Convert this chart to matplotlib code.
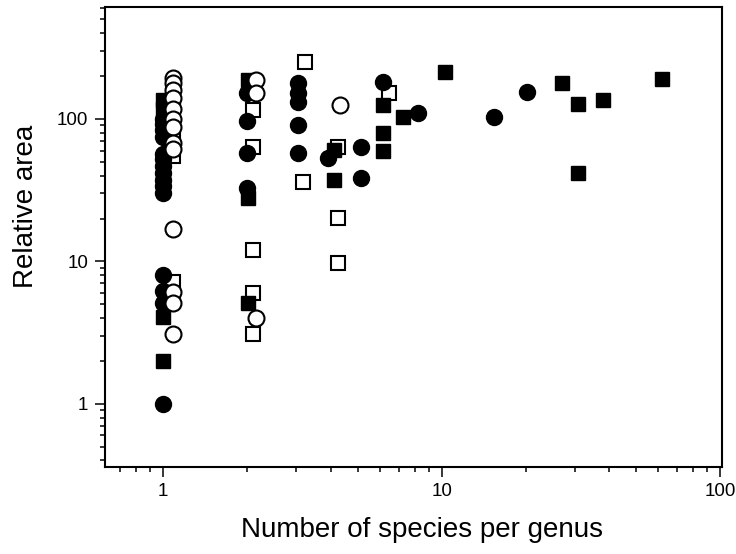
import matplotlib
matplotlib.use("Agg")
import matplotlib.pyplot as plt
from matplotlib.ticker import LogLocator, NullFormatter, FixedLocator, FixedFormatter

plt.rcParams['font.family'] = ['Liberation Sans', 'DejaVu Sans']

# ---- data ----
# filled circles
fc_x = [1, 1, 1, 1, 1, 1, 1, 1, 1, 1, 1, 1, 1, 1, 1,
        2, 2, 2, 2,
        3.05, 3.05, 3.05, 3.05, 3.05,
        3.92, 5.12, 5.12, 6.14, 8.2, 15.4, 20.2]
fc_y = [1, 5.1, 6.2, 8, 30, 34, 37, 42, 47, 52, 57, 75, 83, 92, 100,
        152, 97, 58, 33,
        178, 152, 132, 91, 58,
        53, 63.6, 38.6, 182, 110, 103, 155]

# open circles
oc_x = [1.08] * 13 + [2.15, 2.15, 2.15, 4.33]
oc_y = [195, 180, 160, 140, 118, 100, 88, 68, 62, 17, 6.1, 5.1, 3.1,
        188, 152, 4.0, 125]

# filled squares
fs_x = [1, 1, 1, 1,
        2.02, 2.02, 2.02,
        4.09, 4.09, 6.18, 6.18, 6.18, 7.24, 10.3, 27, 30.8, 30.8, 37.9, 61.8]
fs_y = [2.0, 4.1, 136, 118,
        188, 28, 5.1,
        60.6, 37.4, 125, 80, 60, 103, 213, 178, 127, 41.8, 136, 191]

# open squares
os_x = [1.08] * 6 + [2.1] * 5 + [3.24, 3.18, 4.26, 4.26, 4.26, 6.45]
os_y = [7.2, 55, 72, 125, 140, 160,
        116, 63.6, 12, 6.0, 3.1,
        251, 36, 63.6, 20.2, 9.8, 152]

x_ticks = [1, 10, 100]
x_tick_labels = ['1', '10', '100']
y_ticks = [1, 10, 100]
y_tick_labels = ['1', '10', '100']

fig = plt.figure(figsize=(7.36, 5.54), dpi=100)
ax = fig.add_axes([105/736, 1-467/554, (722-105)/736, (467-7)/554])

ax.set_xscale('log')
ax.set_yscale('log')

ax.plot(os_x, os_y, linestyle='none', marker='s', markersize=10.5,
        markerfacecolor='white', markeredgecolor='black', markeredgewidth=1.5, zorder=3)
ax.plot(fs_x, fs_y, linestyle='none', marker='s', markersize=10.5,
        markerfacecolor='black', markeredgecolor='black', markeredgewidth=1.0, zorder=4)
ax.plot(fc_x, fc_y, linestyle='none', marker='o', markersize=11.5,
        markerfacecolor='black', markeredgecolor='black', markeredgewidth=1.0, zorder=5)
ax.plot(oc_x, oc_y, linestyle='none', marker='o', markersize=11.5,
        markerfacecolor='white', markeredgecolor='black', markeredgewidth=1.5, zorder=6)

ax.set_xlim(0.618, 101.5)
ax.set_ylim(0.36, 611)

ax.xaxis.set_major_locator(FixedLocator(x_ticks))
ax.xaxis.set_major_formatter(FixedFormatter(x_tick_labels))
ax.yaxis.set_major_locator(FixedLocator(y_ticks))
ax.yaxis.set_major_formatter(FixedFormatter(y_tick_labels))
ax.xaxis.set_minor_locator(LogLocator(base=10, subs=range(2, 10)))
ax.yaxis.set_minor_locator(LogLocator(base=10, subs=range(2, 10)))
ax.xaxis.set_minor_formatter(NullFormatter())
ax.yaxis.set_minor_formatter(NullFormatter())

ax.tick_params(which='major', direction='out', length=7.2, width=1.1, labelsize=13.5, pad=5)
ax.tick_params(which='minor', direction='out', length=3.6, width=1.1)
ax.tick_params(axis='x', which='major', pad=4)
for s in ax.spines.values():
    s.set_linewidth(1.5)

ax.set_xlabel('Number of species per genus', fontsize=20)
ax.set_ylabel('Relative area', fontsize=20)
ax.xaxis.set_label_coords(0.514, -0.109)
ax.yaxis.set_label_coords(-0.107, 0.567)

fig.savefig('out.png', dpi=100)
